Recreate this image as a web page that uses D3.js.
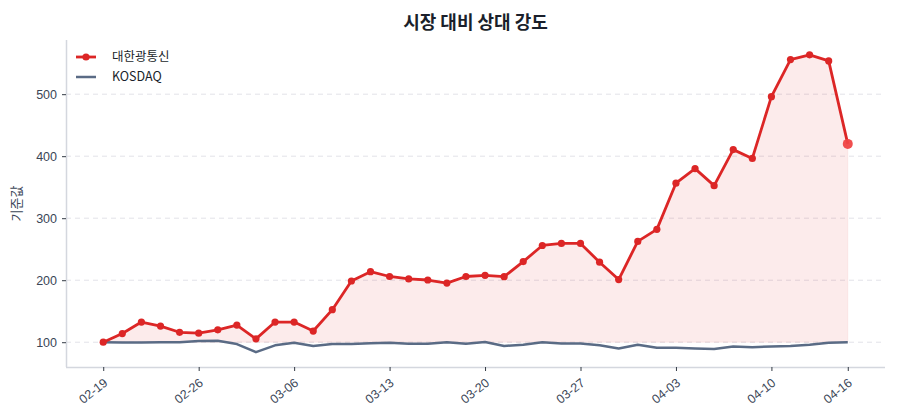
<!DOCTYPE html>
<html><head><meta charset="utf-8">
<script src="https://cdn.jsdelivr.net/npm/d3@7"></script>
<style>
body{margin:0;background:#fff;}
svg{font-family:"Noto Sans CJK KR","Noto Sans",sans-serif;}
</style></head>
<body><svg id="c" width="900" height="420"></svg>
<script>
const dates = ["02-19","02-20","02-23","02-24","02-25","02-26","02-27","03-03","03-04","03-05",
  "03-06","03-09","03-10","03-11","03-12","03-13","03-16","03-17","03-18","03-19",
  "03-20","03-23","03-24","03-25","03-26","03-27","03-30","03-31","04-01","04-02",
  "04-03","04-06","04-07","04-08","04-09","04-10","04-13","04-14","04-15","04-16"];
const stockValues = [100,114,132.5,126,116,114.6,120,127.6,105.4,132.5,
  132.5,118,152.5,198.7,213.8,206,202,200.3,195.4,206,
  207.8,205.7,230,256,259.3,259.3,229,201,262.6,282,
  356.4,380,352.5,410.6,396.4,496,555.8,563.4,553.7,419.8];
const kosdaqValues = [100,99.5,99.5,100,100,102,102.5,97,84,95,
  99,94,97,97,98.5,99,97.5,97.5,100,97.5,
  100.5,94,96,100,98,98,95,90,96,91,
  91,90,89,93,92,93,94,96,99,100];
const tickLabels = ["02-19","02-26","03-06","03-13","03-20","03-27","04-03","04-10","04-16"];
const yTicks = [100,200,300,400,500];
const seriesNames = ["대한광통신","KOSDAQ"];
const title = "시장 대비 상대 강도";
const yLabel = "기준값";

const svg = d3.select("#c");
const L=66, R=885, T=40, B=367;
const n = dates.length;
const x = d3.scaleLinear().domain([-1.95, n-1+1.95]).range([L,R]);
const allVals = stockValues.concat(kosdaqValues);
const mn = d3.min(allVals), mx = d3.max(allVals), pad=(mx-mn)*0.05;
const y = d3.scaleLinear().domain([mn-pad, mx+pad]).range([B,T]);
const idx = d => dates.indexOf(d);

// grid
svg.append("g").selectAll("line").data(yTicks).join("line")
  .attr("x1",L).attr("x2",R).attr("y1",d=>y(d)).attr("y2",d=>y(d))
  .attr("stroke","#e2e2e8").attr("stroke-dasharray","5,4").attr("stroke-width",1);

// area
const area = d3.area().x((d,i)=>x(i)).y0(y(100)).y1(d=>y(d));
svg.append("path").datum(stockValues).attr("d",area)
  .attr("fill","#dc2626").attr("fill-opacity",0.09)
  .attr("stroke","#dc2626").attr("stroke-opacity",0.06).attr("stroke-width",1);

// kosdaq line
const line = d3.line().x((d,i)=>x(i)).y(d=>y(d));
svg.append("path").datum(kosdaqValues).attr("d",line)
  .attr("fill","none").attr("stroke","#5a6b85").attr("stroke-width",2.5).attr("stroke-linejoin","round");

// stock line
svg.append("path").datum(stockValues).attr("d",line)
  .attr("fill","none").attr("stroke","#dc2626").attr("stroke-width",2.8).attr("stroke-linejoin","round");
svg.append("g").selectAll("circle").data(stockValues.slice(0,n-1)).join("circle")
  .attr("cx",(d,i)=>x(i)).attr("cy",d=>y(d)).attr("r",3.6).attr("fill","#dc2626");
svg.append("circle").attr("cx",x(n-1)).attr("cy",y(stockValues[n-1])).attr("r",5)
  .attr("fill","#ef4444").attr("fill-opacity",0.95);

// axes
const xAxis = d3.axisBottom(x).tickValues(tickLabels.map(idx)).tickFormat(i=>dates[i]).tickSize(4).tickPadding(6);
const gx = svg.append("g").attr("transform",`translate(0,${B})`).call(xAxis);
gx.select(".domain").attr("stroke","#d4d7de").attr("stroke-width",1.5).attr("d",`M${L},0.5H${R}`);
gx.selectAll(".tick line").attr("stroke","#333a44");
gx.selectAll(".tick text").attr("fill","#3a4556").attr("font-size",12.5)
  .attr("text-anchor","end").attr("dy","0.35em")
  .attr("transform","translate(2,14) rotate(-38)").attr("x",0).attr("y",0);

const yAxis = d3.axisLeft(y).tickValues(yTicks).tickSize(4).tickPadding(5);
const gy = svg.append("g").attr("transform",`translate(${L},0)`).call(yAxis);
gy.select(".domain").attr("stroke","#d4d7de").attr("stroke-width",1.5).attr("d",`M0.5,${T}V${B}`);
gy.selectAll(".tick line").attr("stroke","#333a44");
gy.selectAll(".tick text").attr("fill","#3a4556").attr("font-size",12.5);

// y label
svg.append("text").attr("transform",`translate(21,${(T+B)/2}) rotate(-90)`)
  .attr("text-anchor","middle").attr("font-size",13).attr("fill","#3a4556").text(yLabel);

// title
svg.append("text").attr("x",(L+R)/2).attr("y",29).attr("text-anchor","middle")
  .attr("font-size",18).attr("font-weight","bold").attr("fill","#1a1f2b").text(title);

// legend
const lg = svg.append("g");
lg.append("line").attr("x1",76).attr("x2",96).attr("y1",57).attr("y2",57).attr("stroke","#dc2626").attr("stroke-width",2.8);
lg.append("circle").attr("cx",86).attr("cy",57).attr("r",3.6).attr("fill","#dc2626");
lg.append("text").attr("x",112).attr("y",57).attr("dy","0.35em").attr("font-size",12.5).attr("fill","#1a1f2b").text(seriesNames[0]);
lg.append("line").attr("x1",76).attr("x2",96).attr("y1",77).attr("y2",77).attr("stroke","#5a6b85").attr("stroke-width",2.5);
lg.append("text").attr("x",112).attr("y",77).attr("dy","0.35em").attr("font-size",12.5).attr("fill","#1a1f2b").text(seriesNames[1]);
</script></body></html>
